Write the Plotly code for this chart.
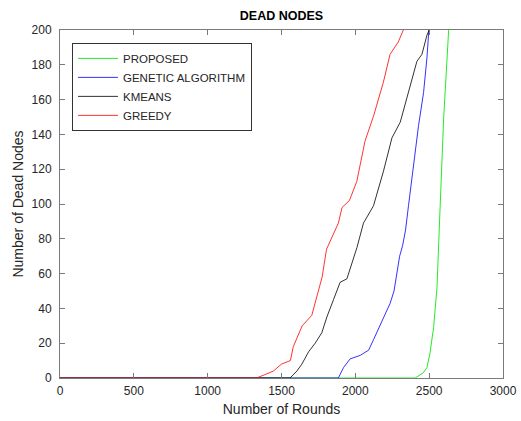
import plotly.graph_objects as go

# PROPOSED
prop_rounds = [0, 2405, 2460, 2485, 2505, 2530, 2553, 2564, 2575, 2598, 2632]
prop_dead = [0, 0, 3, 6, 14, 29, 52, 73, 100, 149, 200]

# GENETIC ALGORITHM
ga_rounds = [0, 1885, 1920, 1965, 2033, 2090, 2123, 2150, 2202, 2236, 2262, 2282, 2300, 2320, 2340, 2360, 2394, 2428, 2462, 2485, 2498]
ga_dead = [0, 0, 6, 11, 13, 16, 22, 27, 36, 43, 50, 62, 70, 76, 85, 99, 122, 145, 164, 184, 200]

# KMEANS
km_rounds = [0, 1558, 1604, 1638, 1683, 1728, 1773, 1807, 1852, 1897, 1943, 1977, 2011, 2055, 2096, 2123, 2191, 2248, 2304, 2360, 2417, 2451, 2485, 2500]
km_dead = [0, 0, 4, 8, 15, 20, 26, 35, 45, 55, 57, 66, 75, 89, 95, 99, 119, 138, 147, 164, 182, 186, 197, 200]

# GREEDY
gr_rounds = [0, 1330, 1390, 1445, 1500, 1560, 1580, 1640, 1705, 1740, 1775, 1805, 1830, 1885, 1910, 1960, 2010, 2065, 2125, 2190, 2235, 2290, 2325]
gr_dead = [0, 0, 2, 4, 8, 10, 18, 30, 36, 47, 58, 74, 79, 89, 98, 102, 113, 136, 151, 170, 186, 193, 200]

x_ticks = [0, 500, 1000, 1500, 2000, 2500, 3000]
y_ticks = [0, 20, 40, 60, 80, 100, 120, 140, 160, 180, 200]

series = [
    ("PROPOSED", prop_rounds, prop_dead, "rgba(0,230,0,0.85)"),
    ("GENETIC ALGORITHM", ga_rounds, ga_dead, "rgba(0,0,255,0.8)"),
    ("KMEANS", km_rounds, km_dead, "rgba(0,0,0,0.8)"),
    ("GREEDY", gr_rounds, gr_dead, "rgba(255,0,0,0.8)"),
]

fig = go.Figure()
for name, xs, ys, c in series:
    fig.add_trace(go.Scatter(x=xs, y=ys, mode="lines", name=name,
                             line=dict(color=c, width=1)))

axis_common = dict(
    showgrid=False, zeroline=False, showline=True, linecolor="#7a7a7a", linewidth=1,
    mirror="ticks", ticks="inside", ticklen=5, tickcolor="#7a7a7a", automargin=False,
    tickfont=dict(family="Liberation Sans, Arial", size=12, color="#262626"),
)

fig.update_layout(
    width=521, height=421,
    margin=dict(l=60, r=18, t=30, b=43, autoexpand=False),
    paper_bgcolor="white", plot_bgcolor="white",
    font=dict(family="Liberation Sans, Arial", color="#262626"),
    title=dict(text="<b>DEAD NODES</b>", x=(60 + 503) / 2 / 521, xanchor="center",
               y=1 - 16 / 421, yanchor="middle", font=dict(size=12.5, color="black")),
    xaxis=dict(range=[0, 3000], tickvals=x_ticks, ticklabelstandoff=2,
               title=dict(text="Number of Rounds", font=dict(size=14), standoff=6),
               **axis_common),
    yaxis=dict(range=[0, 200], tickvals=y_ticks, ticklabelstandoff=5,
               title=dict(text="Number of Dead Nodes", font=dict(size=14), standoff=4),
               **axis_common),
    legend=dict(x=0.027, y=0.963, xanchor="left", yanchor="top",
                bgcolor="white", bordercolor="#333", borderwidth=1,
                font=dict(size=11.5, color="#262626"), itemwidth=40,
                tracegroupgap=0),
    showlegend=True,
)

fig.write_html("out.html")
